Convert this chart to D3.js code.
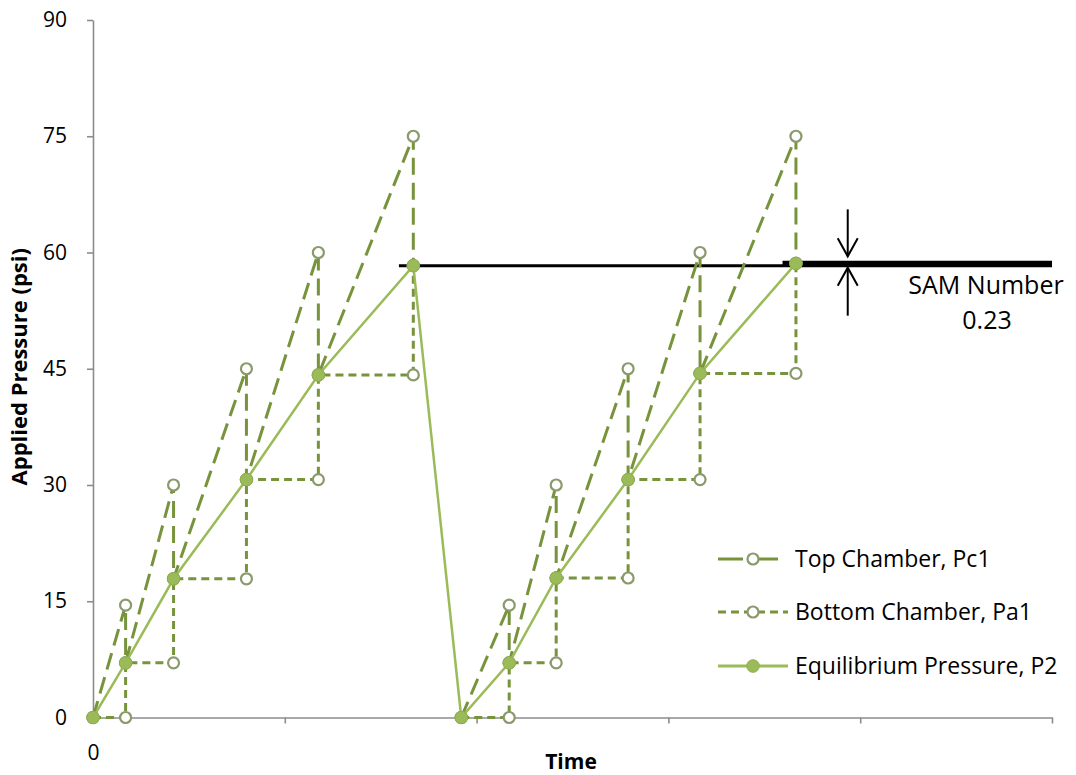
<!DOCTYPE html>
<html>
<head>
<meta charset="utf-8">
<script src="https://cdn.jsdelivr.net/npm/d3@7"></script>
<style>
  html, body { margin: 0; padding: 0; background: #fff; }
  svg { display: block; font-family: "Open Sans", "Noto Sans", sans-serif; }
</style>
</head>
<body>
<svg id="chart" width="1076" height="775"></svg>
<script>
// Pressure readings over two loading cycles: [time, psi]
const topChamber = [
  [0, 0], [0.34, 14.5], [0.34, 7.05], [0.84, 30], [0.84, 17.9], [1.6, 45], [1.6, 30.7],
  [2.35, 60], [2.35, 44.2], [3.34, 75], [3.34, 58.3],
  null,
  [3.84, 0], [4.34, 14.5], [4.34, 7.05], [4.83, 30], [4.83, 18], [5.58, 45], [5.58, 30.7],
  [6.33, 60], [6.33, 44.4], [7.33, 75], [7.33, 58.6]
];
const bottomChamber = [
  [0, 0], [0.34, 0], [0.34, 7.05], [0.84, 7.05], [0.84, 17.9], [1.6, 17.9], [1.6, 30.7],
  [2.35, 30.7], [2.35, 44.2], [3.34, 44.2], [3.34, 58.3],
  null,
  [3.84, 0], [4.34, 0], [4.34, 7.05], [4.83, 7.05], [4.83, 18], [5.58, 18], [5.58, 30.7],
  [6.33, 30.7], [6.33, 44.4], [7.33, 44.4], [7.33, 58.6]
];
const equilibrium = [
  [0, 0], [0.34, 7.05], [0.84, 17.9], [1.6, 30.7], [2.35, 44.2], [3.34, 58.3],
  [3.84, 0], [4.34, 7.05], [4.83, 18], [5.58, 30.7], [6.33, 44.4], [7.33, 58.6]
];

const yTicks = [0, 15, 30, 45, 60, 75, 90];
const xTicks = [0, 2, 4, 6, 8, 10];
const xTickLabels = ["0", "", "", "", "", ""];

// Final equilibrium levels of each cycle and the resulting SAM number
const samLevels = [58.3, 58.6];
const samStart = [3.19, 7.19];
const samArrowTime = 7.87;
const samLabel = ["SAM Number", "0.23"];

const legendNames = ["Top Chamber, Pc1", "Bottom Chamber, Pa1", "Equilibrium Pressure, P2"];

const svg = d3.select("#chart");

const x = d3.scaleLinear().domain([0, 10]).range([93, 1052]);
const y = d3.scaleLinear().domain([0, 90]).range([717.5, 20]);

const axisColor = "#8c8c8c";
const darkGreen = "#77933c";
const lightGreen = "#9bbb59";
const ringColor = "#8a9a6c";

// Axes
const yAxis = svg.append("g")
  .attr("transform", `translate(${x(0)},0)`)
  .call(d3.axisLeft(y).tickValues(yTicks).tickSize(6).tickSizeOuter(0).tickPadding(20));
const xAxis = svg.append("g")
  .attr("transform", `translate(0,${y(0)})`)
  .call(d3.axisBottom(x).tickValues(xTicks).tickSize(6).tickSizeOuter(0).tickPadding(22)
    .tickFormat((d, i) => xTickLabels[i]));
[yAxis, xAxis].forEach(g => {
  g.selectAll("path.domain").attr("stroke", axisColor).attr("stroke-width", 1.6);
  g.selectAll(".tick line").attr("stroke", axisColor).attr("stroke-width", 1.6);
  g.selectAll(".tick text").attr("fill", "#000").style("font-size", "21px")
    .style("font-family", "'Open Sans', sans-serif");
});

svg.append("text")
  .attr("transform", `translate(27,${(y(0) + y(90)) / 2 - 2}) rotate(-90)`)
  .attr("text-anchor", "middle")
  .style("font-size", "22px").style("font-weight", "bold")
  .text("Applied Pressure (psi)");
svg.append("text")
  .attr("x", 571).attr("y", 769)
  .attr("text-anchor", "middle")
  .style("font-size", "21px").style("font-weight", "bold")
  .text("Time");

// SAM reference lines
svg.append("line")
  .attr("x1", x(samStart[0])).attr("x2", x(10))
  .attr("y1", y(samLevels[0])).attr("y2", y(samLevels[0]))
  .attr("stroke", "#000").attr("stroke-width", 3);
svg.append("line")
  .attr("x1", x(samStart[1])).attr("x2", x(10))
  .attr("y1", y(samLevels[1])).attr("y2", y(samLevels[1]))
  .attr("stroke", "#000").attr("stroke-width", 5);

// Arrows bracketing the SAM gap
const ax = x(samArrowTime);
const downTip = y(samLevels[1]) - 7;
const upTip = y(samLevels[0]) + 2;
const arrows = svg.append("g").attr("stroke", "#000").attr("stroke-width", 2).attr("fill", "none");
arrows.append("line").attr("x1", ax).attr("x2", ax).attr("y1", downTip - 47).attr("y2", downTip);
arrows.append("path").attr("d", `M${ax - 10},${downTip - 18}L${ax},${downTip}L${ax + 10},${downTip - 18}`);
arrows.append("line").attr("x1", ax).attr("x2", ax).attr("y1", upTip).attr("y2", upTip + 48);
arrows.append("path").attr("d", `M${ax - 10},${upTip + 18}L${ax},${upTip}L${ax + 10},${upTip + 18}`);

svg.append("text").attr("x", 986).attr("y", 294).attr("text-anchor", "middle")
  .style("font-size", "25px").text(samLabel[0]);
svg.append("text").attr("x", 987).attr("y", 329).attr("text-anchor", "middle")
  .style("font-size", "25px").text(samLabel[1]);

// Series
const line = d3.line()
  .defined(d => d !== null)
  .x(d => x(d[0])).y(d => y(d[1]));

svg.append("path").datum(topChamber)
  .attr("d", line).attr("fill", "none")
  .attr("stroke", darkGreen).attr("stroke-width", 3)
  .attr("stroke-dasharray", "17,8");
svg.append("path").datum(bottomChamber)
  .attr("d", line).attr("fill", "none")
  .attr("stroke", darkGreen).attr("stroke-width", 3)
  .attr("stroke-dasharray", "8,5");

const ringPts = topChamber.concat(bottomChamber).filter(d => d !== null);
svg.append("g").selectAll("circle").data(ringPts).join("circle")
  .attr("cx", d => x(d[0])).attr("cy", d => y(d[1])).attr("r", 5.5)
  .attr("fill", "#fff").attr("stroke", ringColor).attr("stroke-width", 2.2);

svg.append("path").datum(equilibrium)
  .attr("d", line).attr("fill", "none")
  .attr("stroke", lightGreen).attr("stroke-width", 2.5);
svg.append("g").selectAll("circle").data(equilibrium).join("circle")
  .attr("cx", d => x(d[0])).attr("cy", d => y(d[1])).attr("r", 6.3)
  .attr("fill", lightGreen).attr("stroke", "#8fae52").attr("stroke-width", 1);

// Legend
const legendY = [559, 612, 666];
const legend = svg.append("g");
legendNames.forEach((name, i) => {
  const g = legend.append("g").attr("transform", `translate(0,${legendY[i]})`);
  if (i === 0) {
    g.append("line").attr("x1", 718).attr("x2", 778).attr("stroke", darkGreen).attr("stroke-width", 3)
      .attr("stroke-dasharray", "25,10,25");
  } else if (i === 1) {
    g.append("line").attr("x1", 718).attr("x2", 788).attr("stroke", darkGreen).attr("stroke-width", 3)
      .attr("stroke-dasharray", "8,5");
  } else {
    g.append("line").attr("x1", 718).attr("x2", 788).attr("stroke", lightGreen).attr("stroke-width", 3);
  }
  if (i < 2) {
    g.append("circle").attr("cx", 753).attr("cy", 0).attr("r", 5.5)
      .attr("fill", "#fff").attr("stroke", ringColor).attr("stroke-width", 2.2);
  } else {
    g.append("circle").attr("cx", 753).attr("cy", 0).attr("r", 6.3)
      .attr("fill", lightGreen).attr("stroke", "#8fae52").attr("stroke-width", 1);
  }
  g.append("text").attr("x", 795).attr("y", 0).attr("dy", "0.35em")
    .style("font-size", "23px").text(name);
});
</script>
</body>
</html>
